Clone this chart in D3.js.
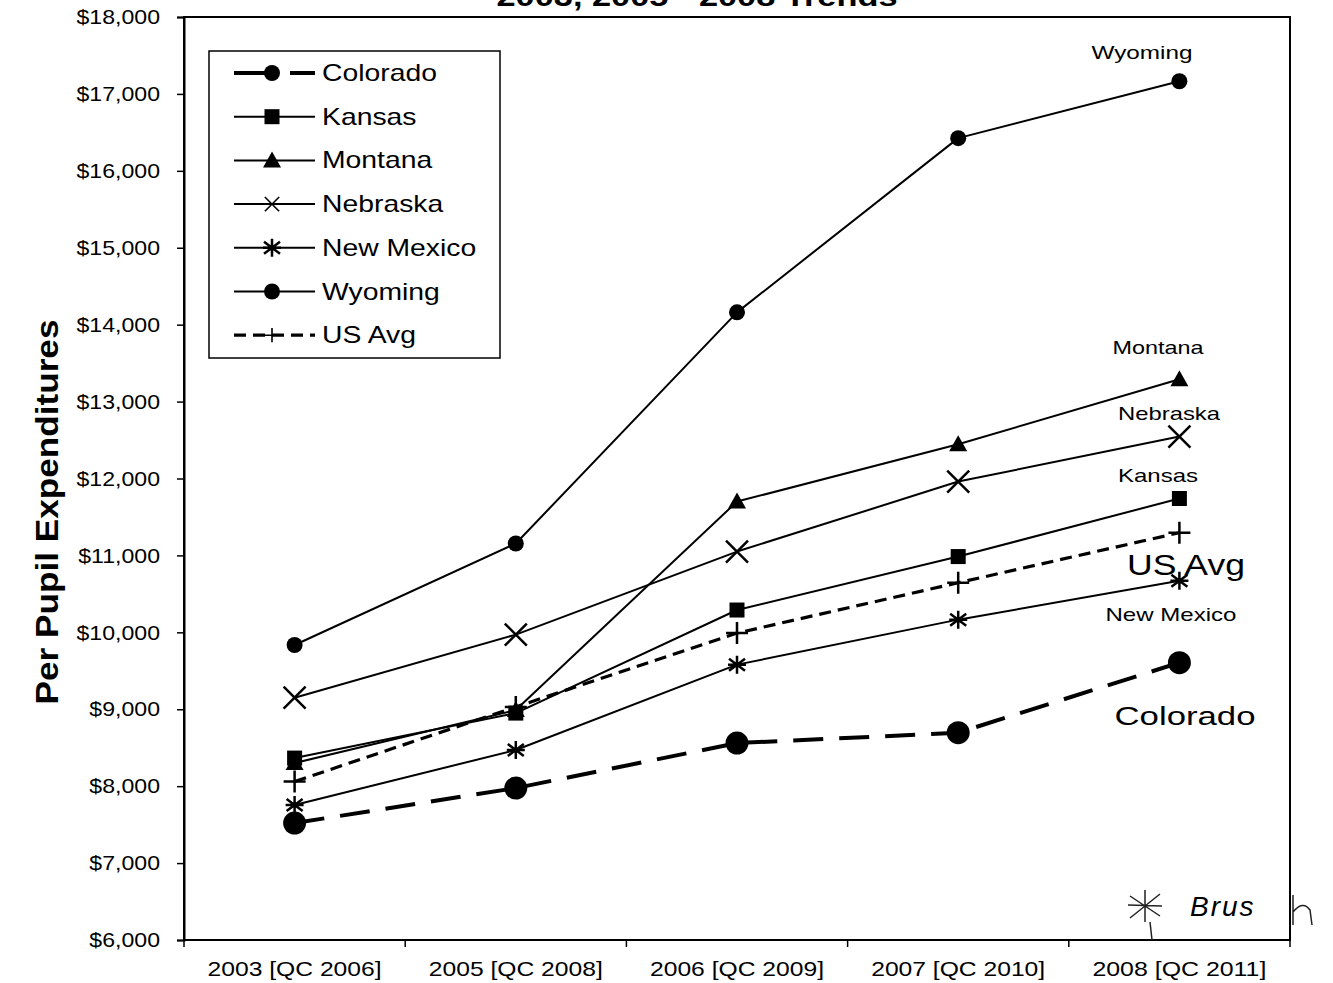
<!DOCTYPE html>
<html>
<head>
<meta charset="utf-8">
<script src="https://cdn.jsdelivr.net/npm/d3@7"></script>
<style>
  html, body { margin: 0; padding: 0; background: #fff; }
  svg { display: block; }
  text { font-family: Arial, "Liberation Sans", sans-serif; fill: #000; }
</style>
</head>
<body>
<svg id="chart" width="1333" height="983"></svg>
<script>
// Per pupil expenditures, 2003 and 2005-2008
const categories = ["2003 [QC 2006]", "2005 [QC 2008]", "2006 [QC 2009]", "2007 [QC 2010]", "2008 [QC 2011]"];
const colorado   = [7520, 7975, 8560, 8695, 9605];
const kansas     = [8365, 8950, 10290, 10985, 11740];
const montana    = [8300, 8990, 11700, 12445, 13290];
const nebraska   = [9150, 9970, 11050, 11960, 12545];
const newMexico  = [7755, 8470, 9580, 10165, 10670];
const wyoming    = [9835, 11155, 14160, 16425, 17165];
const usAvg      = [8060, 9030, 9990, 10645, 11295];
const yTicks     = [6000, 7000, 8000, 9000, 10000, 11000, 12000, 13000, 14000, 15000, 16000, 17000, 18000];

const series = [
  { name: "Colorado",   values: colorado,  marker: "bigCircle", width: 4,   dash: "30,16", endLabel: { text: "Colorado",   size: 26, cx: 1185, dy: 62,  w: 141 } },
  { name: "Kansas",     values: kansas,    marker: "square",    width: 2,   dash: null,    endLabel: { text: "Kansas",     size: 19, cx: 1158, dy: -16, w: 80 } },
  { name: "Montana",    values: montana,   marker: "triangle",  width: 2,   dash: null,    endLabel: { text: "Montana",    size: 19, cx: 1158, dy: -25, w: 91 } },
  { name: "Nebraska",   values: nebraska,  marker: "x",         width: 2,   dash: null,    endLabel: { text: "Nebraska",   size: 19, cx: 1169, dy: -17, w: 102 } },
  { name: "New Mexico", values: newMexico, marker: "asterisk",  width: 2,   dash: null,    endLabel: { text: "New Mexico", size: 19, cx: 1171, dy: 40,  w: 131 } },
  { name: "Wyoming",    values: wyoming,   marker: "circle",    width: 2,   dash: null,    endLabel: { text: "Wyoming",    size: 19, cx: 1142, dy: -22, w: 101 } },
  { name: "US Avg",     values: usAvg,     marker: "plus",      width: 3.2, dash: "12,7",  endLabel: { text: "US Avg",     size: 30, cx: 1186, dy: 42,  w: 118 } }
];

const svg = d3.select("#chart");
const plot = { left: 184, right: 1290, top: 17, bottom: 940 };

const x = d3.scaleBand().domain(categories).range([plot.left, plot.right]);
const y = d3.scaleLinear().domain([6000, 18000]).range([plot.bottom, plot.top]);
const cx = c => x(c) + x.bandwidth() / 2;

// Stretch a text horizontally to a given width
function fitWidth(sel, w) {
  sel.attr("textLength", w).attr("lengthAdjust", "spacingAndGlyphs");
}
function widen(sel, factor) {
  sel.each(function () {
    const n = this;
    d3.select(n).attr("textLength", n.getComputedTextLength() * factor).attr("lengthAdjust", "spacingAndGlyphs");
  });
}

// Title, mostly cut off at the top edge
svg.append("text")
  .attr("x", 697).attr("y", 6)
  .attr("text-anchor", "middle")
  .attr("font-size", 28).attr("font-weight", "bold")
  .call(fitWidth, 401)
  .text("2003, 2005 - 2008 Trends");

// Plot frame
svg.append("rect")
  .attr("x", plot.left).attr("y", plot.top)
  .attr("width", plot.right - plot.left).attr("height", plot.bottom - plot.top)
  .attr("fill", "none").attr("stroke", "#000").attr("stroke-width", 2);

// Y axis
const yAxis = d3.axisLeft(y)
  .tickValues(yTicks)
  .tickSize(7)
  .tickPadding(17)
  .tickFormat(d => "$" + d3.format(",")(d));
const gy = svg.append("g").attr("transform", `translate(${plot.left},0)`).call(yAxis);
gy.select(".domain").attr("stroke-width", 2);
gy.selectAll(".tick line").attr("stroke-width", 1.5);
gy.selectAll(".tick text")
  .attr("font-size", 21)
  .attr("font-family", "Arial, 'Liberation Sans', sans-serif")
  .call(widen, 1.1);

// X axis: ticks sit on band boundaries, labels at band centres
const gx = svg.append("g").attr("transform", `translate(0,${plot.bottom})`);
gx.append("line")
  .attr("x1", plot.left).attr("x2", plot.right)
  .attr("stroke", "#000").attr("stroke-width", 2);
const boundaries = categories.map(c => x(c)).concat([plot.right]);
gx.selectAll("line.tk").data(boundaries).join("line")
  .attr("class", "tk")
  .attr("x1", d => d).attr("x2", d => d)
  .attr("y1", 0).attr("y2", 7)
  .attr("stroke", "#000").attr("stroke-width", 1.5);
gx.selectAll("text").data(categories).join("text")
  .attr("x", d => cx(d)).attr("y", 36)
  .attr("text-anchor", "middle")
  .attr("font-size", 21)
  .call(fitWidth, 174)
  .text(d => d);

// Y axis title
svg.append("text")
  .attr("transform", "translate(58,512) rotate(-90)")
  .attr("text-anchor", "middle")
  .attr("font-size", 31).attr("font-weight", "bold")
  .call(fitWidth, 385)
  .text("Per Pupil Expenditures");

// Marker shapes
function drawMarker(g, type, px, py) {
  switch (type) {
    case "bigCircle":
      g.append("circle").attr("cx", px).attr("cy", py).attr("r", 11.5).attr("fill", "#000");
      break;
    case "circle":
      g.append("circle").attr("cx", px).attr("cy", py).attr("r", 8).attr("fill", "#000");
      break;
    case "square":
      g.append("rect").attr("x", px - 7.5).attr("y", py - 7.5).attr("width", 15).attr("height", 15).attr("fill", "#000");
      break;
    case "triangle":
      g.append("path").attr("d", `M${px},${py - 9}L${px + 9},${py + 7}L${px - 9},${py + 7}Z`).attr("fill", "#000");
      break;
    case "x":
      g.append("path").attr("d", `M${px - 11},${py - 11}L${px + 11},${py + 11}M${px + 11},${py - 11}L${px - 11},${py + 11}`)
        .attr("stroke", "#000").attr("stroke-width", 2.5).attr("fill", "none");
      break;
    case "asterisk":
      g.append("path").attr("d", `M${px - 8},${py - 6}L${px + 8},${py + 6}M${px + 8},${py - 6}L${px - 8},${py + 6}M${px},${py - 9}L${px},${py + 9}M${px - 9},${py}L${px + 9},${py}`)
        .attr("stroke", "#000").attr("stroke-width", 2.5).attr("fill", "none");
      break;
    case "plus":
      g.append("path").attr("d", `M${px - 11},${py}L${px + 11},${py}M${px},${py - 11}L${px},${py + 11}`)
        .attr("stroke", "#000").attr("stroke-width", 2.5).attr("fill", "none");
      break;
  }
}

// Series lines and markers
const line = d3.line().x(d => cx(d.c)).y(d => y(d.v));
series.forEach(s => {
  const pts = s.values.map((v, i) => ({ c: categories[i], v }));
  const g = svg.append("g").attr("class", "series");
  g.append("path")
    .attr("d", line(pts))
    .attr("fill", "none")
    .attr("stroke", "#000")
    .attr("stroke-width", s.width)
    .attr("stroke-dasharray", s.dash)
    .attr("stroke-linejoin", "round");
  pts.forEach(p => drawMarker(g, s.marker, cx(p.c), y(p.v)));

  // Name written beside the last point
  const last = pts[pts.length - 1];
  g.append("text")
    .attr("x", s.endLabel.cx)
    .attr("y", y(last.v) + s.endLabel.dy)
    .attr("text-anchor", "middle")
    .attr("font-size", s.endLabel.size)
    .call(fitWidth, s.endLabel.w)
    .text(s.endLabel.text);
});

// Legend
const legend = svg.append("g");
legend.append("rect")
  .attr("x", 209).attr("y", 51).attr("width", 291).attr("height", 307)
  .attr("fill", "#fff").attr("stroke", "#000").attr("stroke-width", 1.5);
series.forEach((s, i) => {
  const ly = 73 + i * 43.7;
  legend.append("line")
    .attr("x1", 234).attr("x2", 315).attr("y1", ly).attr("y2", ly)
    .attr("stroke", "#000")
    .attr("stroke-width", s.width)
    .attr("stroke-dasharray", s.name === "Colorado" ? "44,12,26" : s.dash);
  const m = s.marker === "bigCircle" ? "circle" : s.marker;
  const lg = legend.append("g");
  drawMarker(lg, m, 272, ly);
  if (s.marker === "x" || s.marker === "plus") lg.attr("transform", `translate(272,${ly}) scale(0.65) translate(-272,${-ly})`);
  legend.append("text")
    .attr("x", 322).attr("y", ly + 8)
    .attr("font-size", 24)
    .text(s.name)
    .call(widen, 1.18);
});

// Handwritten note in the lower right corner
const note = svg.append("g").attr("stroke", "#222").attr("fill", "none").attr("stroke-width", 1.5);
note.append("path").attr("d", "M1130,896L1160,916M1160,894L1130,918M1145,890L1145,922M1128,905L1162,906");
note.append("path").attr("d", "M1150,922L1152,940");
svg.append("text")
  .attr("x", 1190).attr("y", 916)
  .attr("font-size", 28)
  .attr("font-style", "italic")
  .attr("font-family", "'DejaVu Sans', sans-serif")
  .attr("font-weight", 200)
  .attr("fill", "#222")
  .attr("letter-spacing", 2)
  .text("Brus");
svg.append("path")
  .attr("d", "M1293,895L1293,925M1293,912Q1303,900 1310,910L1312,925")
  .attr("stroke", "#222").attr("fill", "none").attr("stroke-width", 1.5);
</script>
</body>
</html>
